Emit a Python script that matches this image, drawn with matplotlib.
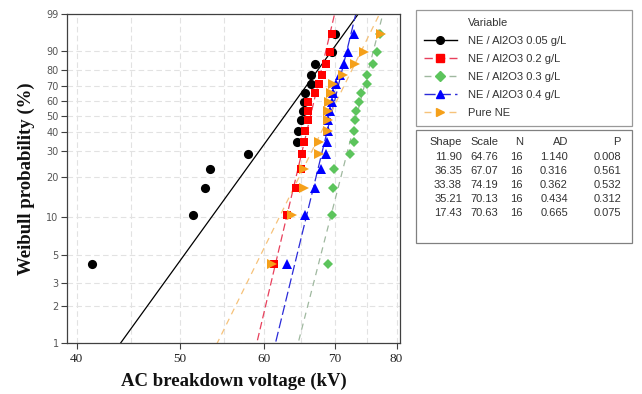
import numpy as np
import matplotlib
matplotlib.use("Agg")
import matplotlib.pyplot as plt
from matplotlib.lines import Line2D
from matplotlib.patches import Rectangle
from matplotlib.ticker import FixedLocator, FixedFormatter, NullFormatter

# ---- data -------------------------------------------------------------
labels = ["NE / Al2O3 0.05 g/L", "NE / Al2O3 0.2 g/L", "NE / Al2O3 0.3 g/L",
          "NE / Al2O3 0.4 g/L", "Pure NE"]

# breakdown voltages (kV), 16 shots per liquid
v_005 = [41.35, 51.5, 52.8, 53.4, 58.0, 64.5, 64.6, 65.0, 65.3, 65.4, 65.6, 66.4, 66.5, 67.0, 69.6, 70.0]
v_02 = [61.3, 63.1, 64.4, 65.0, 65.2, 65.4, 65.6, 66.0, 66.0, 66.1, 67.1, 67.6, 68.1, 68.6, 69.2, 69.6]
v_03 = [69.0, 69.6, 69.7, 69.8, 72.3, 72.9, 73.0, 73.1, 73.3, 73.7, 74.1, 75.0, 75.1, 76.0, 76.6, 77.2]
v_04 = [63.1, 65.6, 67.1, 67.9, 68.7, 68.8, 68.9, 69.0, 69.3, 69.5, 69.7, 70.1, 70.8, 71.4, 72.0, 73.0]
v_pure = [61.1, 63.8, 65.5, 65.5, 67.6, 67.6, 69.0, 69.0, 69.0, 69.1, 69.4, 69.7, 71.3, 73.1, 74.5, 77.4]
series = [v_005, v_02, v_03, v_04, v_pure]

# two-parameter Weibull fit statistics
shape = [11.90, 36.35, 33.38, 35.21, 17.43]
scale = [64.76, 67.07, 74.19, 70.13, 70.63]
n_obs = [16, 16, 16, 16, 16]
ad_stat = [1.140, 0.316, 0.362, 0.434, 0.665]
p_value = [0.008, 0.561, 0.532, 0.312, 0.075]

x_ticks = [40, 50, 60, 70, 80]
y_ticks = [1, 2, 3, 5, 10, 20, 30, 40, 50, 60, 70, 80, 90, 99]

# ---- styles -----------------------------------------------------------
marker_colors = ["#000000", "#ff0000", "#5cc45c", "#0000ff", "#f5a01a"]
line_colors = ["#000000", "#e8405c", "#9fb89f", "#2a2ad8", "#f6c27a"]
line_styles = ["-", (0, (6, 3)), (0, (5, 4)), (0, (8, 3)), (0, (5, 4))]
markers = ["o", "s", "D", "^", ">"]
marker_sizes = [6.6, 6.4, 5.6, 7.2, 7.2]

W, H = 642, 394
fig = plt.figure(figsize=(W / 100, H / 100), dpi=100)
ax = fig.add_axes([67 / W, 1 - 343 / H, (400 - 67) / W, (343 - 14) / H])


def wb_fwd(p):
    with np.errstate(all="ignore"):
        p = np.clip(np.asarray(p, dtype=float), 1e-9, 100 - 1e-9)
        return np.log(-np.log(1 - p / 100.0))


def wb_inv(w):
    with np.errstate(all="ignore"):
        return 100.0 * (1 - np.exp(-np.exp(np.asarray(w, dtype=float))))


ax.set_xscale("log")
ax.set_yscale("function", functions=(wb_fwd, wb_inv))

# fitted Weibull lines
p_line = np.linspace(0.2, 99.8, 600)
for i in range(5):
    x_fit = scale[i] * (-np.log(1 - p_line / 100)) ** (1 / shape[i])
    ax.plot(x_fit, p_line, color=line_colors[i], linestyle=line_styles[i],
            linewidth=0.9, zorder=2)

# observations at median ranks
for i, vals in enumerate(series):
    v = np.sort(np.asarray(vals))
    n = len(v)
    rank = (np.arange(1, n + 1) - 0.3) / (n + 0.4) * 100
    ax.plot(v, rank, linestyle="none", marker=markers[i], color=marker_colors[i],
            markersize=marker_sizes[i], markeredgewidth=0, zorder=3 + i)

ax.set_xlim(39.17, 80.6)
ax.set_ylim(1, 99)

ax.xaxis.set_major_locator(FixedLocator(x_ticks))
ax.xaxis.set_major_formatter(FixedFormatter([str(t) for t in x_ticks]))
ax.xaxis.set_minor_locator(FixedLocator([45, 55, 65, 75]))
ax.xaxis.set_minor_formatter(NullFormatter())
ax.yaxis.set_major_locator(FixedLocator(y_ticks))
ax.yaxis.set_major_formatter(FixedFormatter([str(t) for t in y_ticks]))
ax.yaxis.set_minor_locator(FixedLocator([]))

ax.tick_params(axis="both", which="major", direction="out", length=4,
               width=0.8, color="#404040")
ax.tick_params(axis="x", which="minor", length=0)
ax.tick_params(axis="x", labelsize=9.5, labelcolor="#222222", pad=3)
ax.tick_params(axis="y", labelsize=7, labelcolor="#555555", pad=2)
for lab in ax.get_xticklabels():
    lab.set_family("Liberation Serif")
for lab in ax.get_yticklabels():
    lab.set_family("DejaVu Sans")

grid_kw = dict(color="#e2e2e2", linestyle=(0, (5, 3)), linewidth=0.8)
ax.grid(True, which="both", axis="x", **grid_kw)
ax.grid(True, which="major", axis="y", **grid_kw)
ax.set_axisbelow(True)
for s in ax.spines.values():
    s.set_color("#404040")
    s.set_linewidth(0.9)

ax.set_xlabel("AC breakdown voltage (kV)", family="Liberation Serif",
              fontweight="bold", fontsize=13.5, color="#111111", labelpad=6)
ax.set_ylabel("Weibull probability (%)", family="Liberation Serif",
              fontweight="bold", fontsize=13.5, color="#111111", labelpad=8)

# ---- legend ------------------------------------------------------------
handles = [Line2D([], [], linestyle="none", marker=None)]
for i in range(5):
    handles.append(Line2D([], [], color=line_colors[i], linestyle=line_styles[i],
                          linewidth=1.0, marker=markers[i],
                          markerfacecolor=marker_colors[i],
                          markeredgecolor=marker_colors[i], markersize=5.5))
leg = ax.legend(handles, ["Variable"] + labels, loc="upper left",
                bbox_to_anchor=(416 / W, 1 - 14 / H, 216 / W, 0.01),
                bbox_transform=fig.transFigure, mode="expand", borderaxespad=0,
                frameon=True, fancybox=False, edgecolor="#808080",
                handlelength=3.0, handletextpad=1.0,
                labelspacing=0.72, borderpad=0.7,
                prop={"family": "Liberation Sans", "size": 8})
leg.get_frame().set_linewidth(0.9)
for t in leg.get_texts():
    t.set_color("#333333")

# ---- statistics table ---------------------------------------------------
fig.add_artist(Rectangle((416 / W, 1 - 243 / H), 216 / W, 113 / H,
                         transform=fig.transFigure, fill=False,
                         edgecolor="#808080", linewidth=0.9))
col_right = [462, 498, 523, 568, 621]
headers = ["Shape", "Scale", "N", "AD", "P"]
row_y = [142, 157, 171, 185, 199, 213]
tkw = dict(transform=fig.transFigure, ha="right", va="center",
           family="Liberation Sans", fontsize=8, color="#333333")
for c, h in zip(col_right, headers):
    fig.text(c / W, 1 - row_y[0] / H, h, **tkw)
for r in range(5):
    cells = [f"{shape[r]:.2f}", f"{scale[r]:.2f}", f"{n_obs[r]:d}",
             f"{ad_stat[r]:.3f}", f"{p_value[r]:.3f}"]
    for c, txt in zip(col_right, cells):
        fig.text(c / W, 1 - row_y[r + 1] / H, txt, **tkw)

fig.savefig("out.png", dpi=100)
